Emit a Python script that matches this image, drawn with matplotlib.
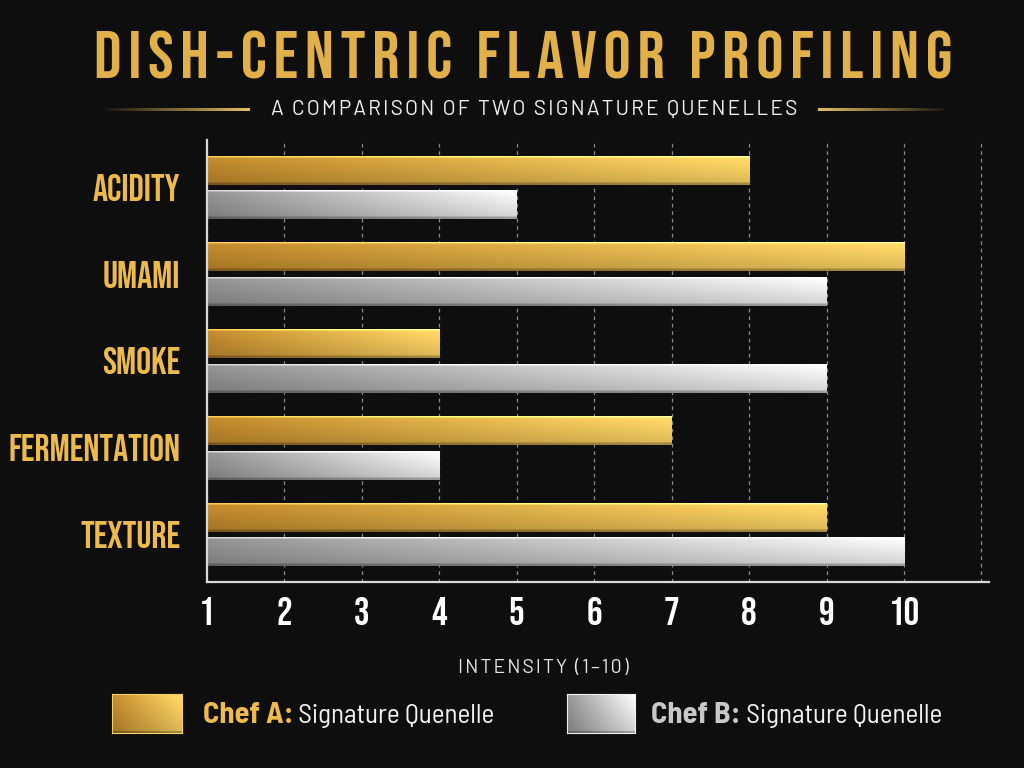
import numpy as np
import matplotlib
matplotlib.use("Agg")
import matplotlib.pyplot as plt
from matplotlib.colors import to_rgb

# data
categories = ["ACIDITY", "UMAMI", "SMOKE", "FERMENTATION", "TEXTURE"]
chef_a = [8, 10, 4, 7, 9]
chef_b = [5, 9, 9, 4, 10]
tick_values = [1, 2, 3, 4, 5, 6, 7, 8, 9, 10]
tick_labels = ["1", "2", "3", "4", "5", "6", "7", "8", "9", "10"]

title = "DISH-CENTRIC FLAVOR PROFILING"
subtitle = "A COMPARISON OF TWO SIGNATURE QUENELLES"
xlabel = "INTENSITY (1\u201310)"
legend_names = ["Chef A:", "Chef B:"]
legend_desc = "Signature Quenelle"

BG = "#0e0e0e"
GOLD_TXT = "#EDBA4C"
GOLD = ("#B9842A", "#F6D063")
SILVER = ("#8C8C8C", "#EFEFEF")
DISPLAY = ["Bebas Neue", "DejaVu Sans"]
COND = ["Barlow Semi Condensed", "DejaVu Sans"]
PLAIN = ["Barlow", "DejaVu Sans"]


def spaced(s):
    # poor man's letter spacing
    return "\u200a".join(s)


def gradient(c0, c1, w=256, h=24):
    c0 = np.array(to_rgb(c0))
    c1 = np.array(to_rgb(c1))
    t = np.linspace(0, 1, w)[None, :, None]
    img = c0 + (c1 - c0) * t
    img = np.repeat(img, h, axis=0)
    # vertical shading: bright top edge, darker bottom edge
    v = np.linspace(1.08, 0.88, h)[:, None, None]
    img = img * v
    img[0:2] = np.clip(img[0:2] * 1.25 + 0.1, 0, 1)
    img[-2:] = img[-2:] * 0.75
    return np.clip(img, 0, 1)


fig = plt.figure(figsize=(10.24, 7.68), dpi=100, facecolor=BG)
ax = fig.add_axes([0.202, 0.242, 0.764, 0.576])
ax.set_facecolor(BG)

y = np.arange(len(categories))
h = 0.335
bars_a = ax.barh(y - 0.2, [v - 1 for v in chef_a], left=1, height=h, color=GOLD[1], zorder=3)
bars_b = ax.barh(y + 0.2, [v - 1 for v in chef_b], left=1, height=h, color=SILVER[1], zorder=3)

for bars, cols in ((bars_a, GOLD), (bars_b, SILVER)):
    img = gradient(*cols)
    for p in bars:
        x0, y0 = p.get_x(), p.get_y()
        im = ax.imshow(img, extent=(x0, x0 + p.get_width(), y0 + p.get_height(), y0),
                       aspect="auto", zorder=4, interpolation="bilinear")
        im.set_clip_path(p)

ax.set_xlim(1, 11.1)
ax.set_ylim(len(categories) - 0.45, -0.55)

ax.set_yticks(y)
ax.set_yticklabels(categories, fontsize=27, color=GOLD_TXT, family=DISPLAY)
ax.set_xticks(tick_values)
ax.set_xticklabels(tick_labels, fontsize=28, color="white", family=DISPLAY)
ax.set_xticks([11], minor=True)
ax.tick_params(axis="both", which="both", length=0)
ax.tick_params(axis="x", pad=11)
ax.tick_params(axis="y", pad=19)

ax.grid(axis="x", which="both", color="#8a8a8a", linestyle=(0, (3, 3)), linewidth=0.9, zorder=1)
ax.grid(axis="y", visible=False)

for s in ("top", "right"):
    ax.spines[s].set_visible(False)
for s in ("left", "bottom"):
    ax.spines[s].set_color("#d8d8d8")
    ax.spines[s].set_linewidth(1.6)
    ax.spines[s].set_zorder(5)

ax.set_xlabel(spaced(xlabel), fontsize=14, color="#e6e6e6", family=PLAIN)
ax.xaxis.set_label_coords(0.43, -0.174)

# title and subtitle
fig.text(0.511, 0.928, spaced(title), ha="center", va="center", fontsize=49,
         color="#E2B048", family=DISPLAY)
fig.text(0.522, 0.857, spaced(subtitle), ha="center", va="center", fontsize=15,
         color="#f0f0f0", family=PLAIN)

# gold rules beside subtitle
for left, right, flip in ((105, 250, False), (818, 945, True)):
    lax = fig.add_axes([left / 1024, 0.855, (right - left) / 1024, 0.004])
    lax.axis("off")
    g = np.zeros((1, 200, 4))
    g[..., :3] = to_rgb("#E9C062")
    a = np.linspace(0.05, 1, 200)
    g[..., 3] = a[::-1] if flip else a
    lax.imshow(g, aspect="auto", extent=(0, 1, 0, 1))

# legend
leg = [(0.109, 0.069, GOLD, GOLD_TXT, 0.198), (0.554, 0.066, SILVER, "#c8c8c8", 0.636)]
for (lx, lw, cols, tcol, tx), name in zip(leg, legend_names):
    bax = fig.add_axes([lx, 0.046, lw, 0.051])
    bax.imshow(gradient(*cols, h=40), aspect="auto")
    bax.set_xticks([])
    bax.set_yticks([])
    for s in bax.spines.values():
        s.set_color(cols[1])
        s.set_linewidth(0.8)
    t1 = fig.text(tx, 0.068, name, ha="left", va="center", fontsize=22,
                  fontweight="bold", color=tcol, family=COND)
    ax.annotate(" " + legend_desc, xy=(1, 0.5), xycoords=t1, va="center", ha="left",
                fontsize=19.5, color="#f2f2f2", family=COND, annotation_clip=False)

fig.savefig("out.png", dpi=100, facecolor=BG)
